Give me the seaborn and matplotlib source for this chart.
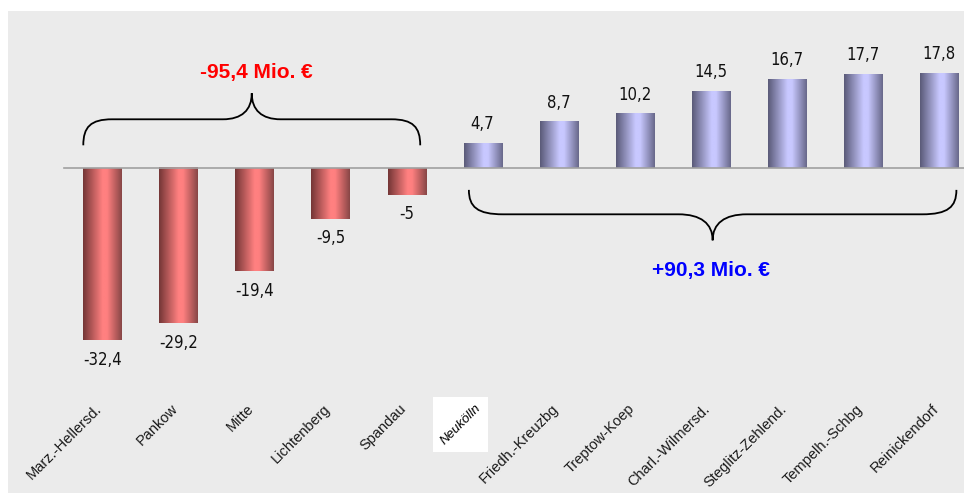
import numpy as np
import pandas as pd
import matplotlib
matplotlib.use("Agg")
import matplotlib.pyplot as plt
import seaborn as sns
from matplotlib.path import Path
from matplotlib.patches import PathPatch, Rectangle
from matplotlib.colors import LinearSegmentedColormap

districts = ["Marz.-Hellersd.", "Pankow", "Mitte", "Lichtenberg", "Spandau", "Neukölln",
             "Friedh.-Kreuzbg", "Treptow-Koep", "Charl.-Wilmersd.", "Steglitz-Zehlend.",
             "Tempelh.-Schbg", "Reinickendorf"]
values = [-32.4, -29.2, -19.4, -9.5, -5, 4.7, 8.7, 10.2, 14.5, 16.7, 17.7, 17.8]
value_labels = ["-32,4", "-29,2", "-19,4", "-9,5", "-5", "4,7", "8,7", "10,2", "14,5", "16,7", "17,7", "17,8"]
sum_neg_label = "-95,4 Mio. €"
sum_pos_label = "+90,3 Mio. €"


def brace(ax, x0, x1, y_end, y_mid, y_tip, r):
    xm = (x0 + x1) / 2
    verts = [
        (x0, y_end),
        (x0, y_end + (y_mid - y_end) * 0.7), (x0 + r * 0.25, y_mid), (x0 + r, y_mid),
        (xm - r, y_mid),
        (xm - r * 0.35, y_mid), (xm, y_mid + (y_tip - y_mid) * 0.35), (xm, y_tip),
        (xm, y_mid + (y_tip - y_mid) * 0.35), (xm + r * 0.35, y_mid), (xm + r, y_mid),
        (x1 - r, y_mid),
        (x1 - r * 0.25, y_mid), (x1, y_end + (y_mid - y_end) * 0.7), (x1, y_end),
    ]
    codes = [Path.MOVETO,
             Path.CURVE4, Path.CURVE4, Path.CURVE4,
             Path.LINETO,
             Path.CURVE4, Path.CURVE4, Path.CURVE4,
             Path.CURVE4, Path.CURVE4, Path.CURVE4,
             Path.LINETO,
             Path.CURVE4, Path.CURVE4, Path.CURVE4]
    ax.add_patch(PathPatch(Path(verts, codes), fill=False, lw=1.3, color="black"))


def main():
    df = pd.DataFrame({"district": districts, "value": values})
    df["sign"] = np.where(df["value"] < 0, "neg", "pos")

    fig = plt.figure(figsize=(9.64, 4.93), dpi=100)
    fig.patch.set_facecolor("white")
    ax = fig.add_axes([8 / 964, 0, 956 / 964, 482 / 493])
    ax.set_facecolor("#EBEBEB")

    sns.barplot(data=df, x="district", y="value", hue="sign", dodge=False,
                palette={"neg": "#FF8080", "pos": "#C8C8FF"}, width=0.5,
                legend=False, ax=ax, zorder=2)

    red_cmap = LinearSegmentedColormap.from_list(
        "r", [(0, "#743636"), (0.5, "#FF8080"), (0.62, "#FF8080"), (1, "#884646")])
    blue_cmap = LinearSegmentedColormap.from_list(
        "b", [(0, "#5A5A78"), (0.5, "#C8C8FF"), (0.62, "#C8C8FF"), (1, "#68688A")])
    grad = np.linspace(0, 1, 128).reshape(1, -1)

    for patch, v in zip(ax.patches, values):
        x, y = patch.get_x(), patch.get_y()
        w, h = patch.get_width(), patch.get_height()
        patch.set_facecolor("none")
        patch.set_edgecolor("none")
        cmap = red_cmap if v < 0 else blue_cmap
        ax.imshow(grad, cmap=cmap, aspect="auto", zorder=2,
                  extent=(x, x + w, min(y, y + h), max(y, y + h)))

    ax.set_xlim(-1.24, 11.33)
    ax.set_ylim(-61.2, 29.6)

    # zero line
    ax.plot([-0.5, 11.33], [0, 0], color="#A0A0A0", lw=1.2, zorder=3, clip_on=False)

    # value labels (narrow look)
    for i, (v, lab) in enumerate(zip(values, value_labels)):
        off = 14 if v > 0 else -14
        ax.annotate(lab, (i, v), xytext=(0, off), textcoords="offset points",
                    ha="center", va="center", fontsize=12, fontstretch="condensed",
                    family=["DejaVu Sans"], color="#111111")

    # category labels
    neu_text = None
    for i, name in enumerate(districts):
        t = ax.text(i - 0.1, -44.0, name, rotation=45, rotation_mode="anchor",
                    ha="right", va="top", fontsize=10.5, zorder=6,
                    family=["Liberation Sans", "DejaVu Sans"], color="#1A1A1A")
        if name == "Neukölln":
            t.set_fontstyle("italic")
            t.set_fontsize(9.5)
            t.set_color("black")
            neu_text = t

    # braces and sums
    brace(ax, -0.25, 4.18, 4.3, 9.2, 14.1, 0.38)
    brace(ax, 4.82, 11.23, -4.1, -8.7, -13.6, 0.45)
    ax.text(2.02, 18.1, sum_neg_label, ha="center", va="center", fontsize=15,
            fontweight="bold", color="#FF0000", family=["Liberation Sans", "DejaVu Sans"])
    ax.text(8.0, -19.2, sum_pos_label, ha="center", va="center", fontsize=15,
            fontweight="bold", color="#0000FF", family=["Liberation Sans", "DejaVu Sans"])

    ax.set_xticks([])
    ax.set_yticks([])
    ax.set_xlabel("")
    ax.set_ylabel("")
    for s in ax.spines.values():
        s.set_visible(False)

    # white box behind Neukölln label (axis aligned)
    fig.canvas.draw()
    bb = neu_text.get_window_extent()
    pad = 5
    box = Rectangle((bb.x0 - pad, bb.y0 - pad), bb.width + 2 * pad, bb.height + 2 * pad,
                    transform=None, facecolor="white", edgecolor="none", zorder=5,
                    clip_on=False)
    ax.add_artist(box)

    fig.savefig("out.png", dpi=100)
    plt.close(fig)


if __name__ == "__main__":
    main()
